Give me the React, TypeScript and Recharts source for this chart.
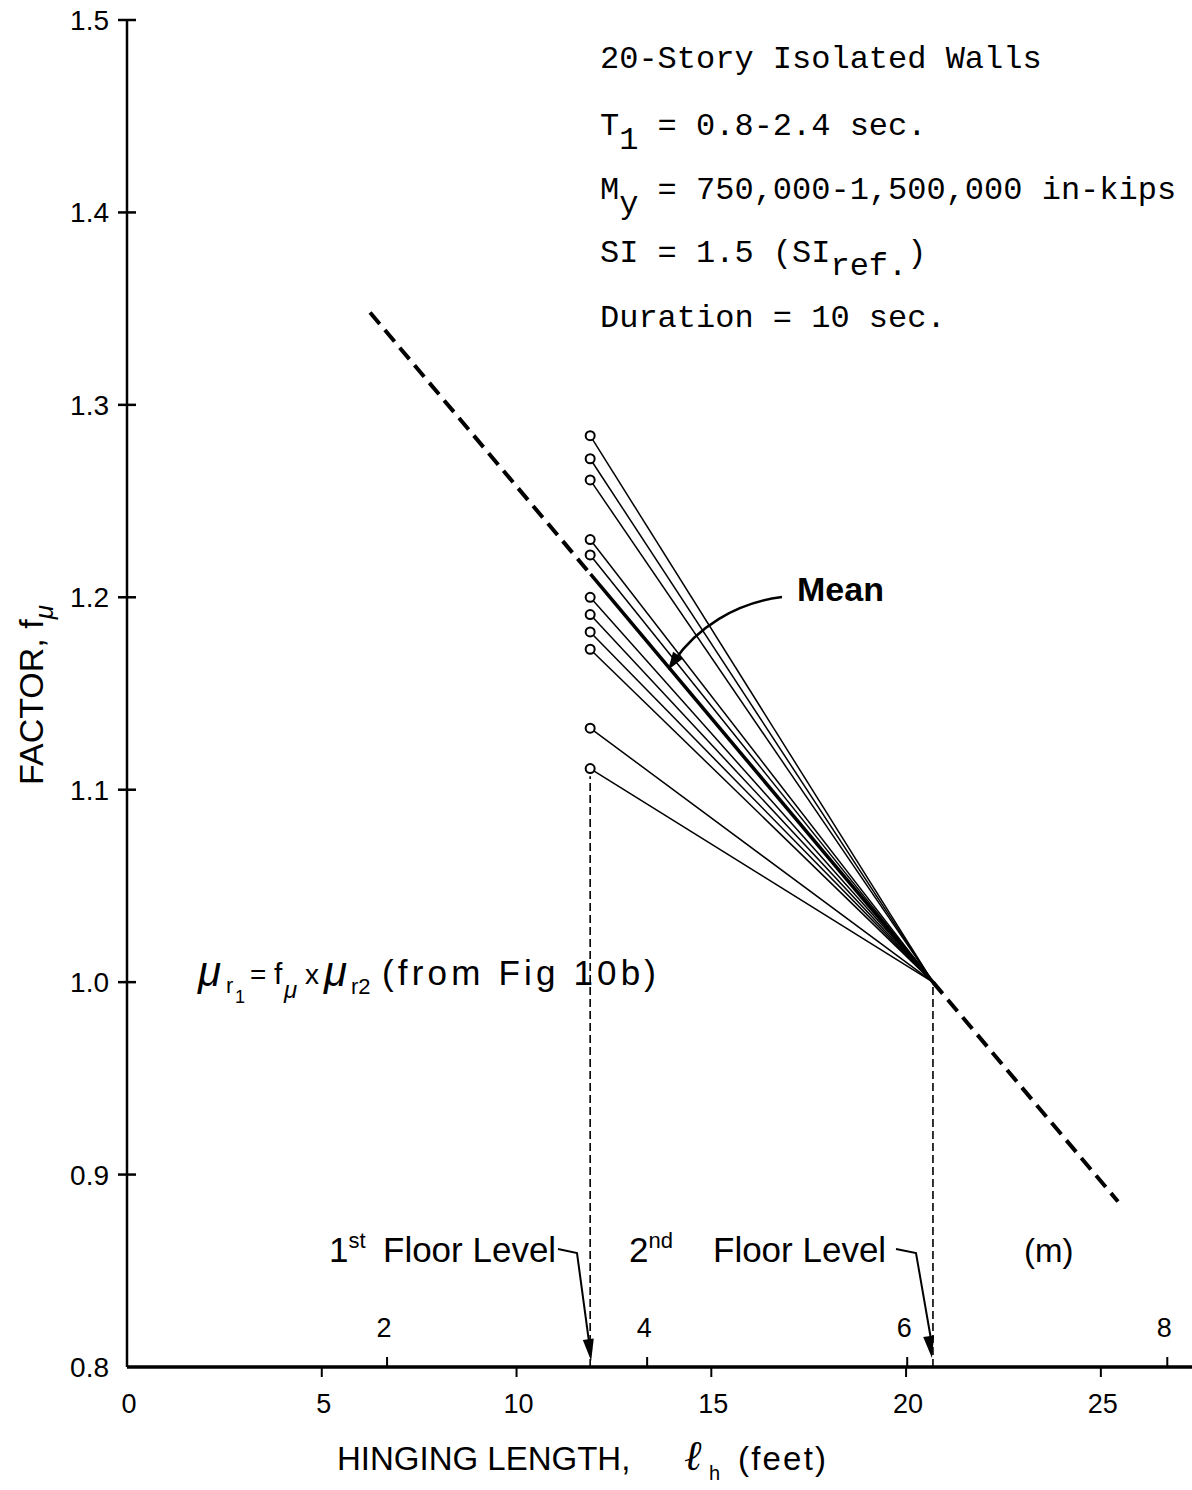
import React from 'react';
import { ComposedChart, Line, XAxis, YAxis, ReferenceLine } from 'recharts';

// ---- data ----
const startX = 11.89; // hinging length (ft) at 1st floor level, where each record starts
const convergeX = 20.69; // hinging length (ft) at 2nd floor level
const convergeY = 1.0;
const startValues = [1.284, 1.272, 1.261, 1.23, 1.222, 1.2, 1.191, 1.182, 1.173, 1.132, 1.111];
const meanX = [6.24, 11.9, 20.69, 25.44];
const meanY = [1.348, 1.212, 1.0, 0.886];
const feetTicks = [0, 5, 10, 15, 20, 25];
const meterTicks = [2, 4, 6, 8];
const yTicks = [0.8, 0.9, 1.0, 1.1, 1.2, 1.3, 1.4, 1.5];
const xDomain: [number, number] = [0, 27.34];
const meterMax = 8.19; // the metre scale drawn under the same axis length
const yDomain: [number, number] = [0.8, 1.5];

const ftPerDrawnMeter = xDomain[1] / meterMax;
const meterTickFeet = meterTicks.map((m) => m * ftPerDrawnMeter);
const allXTicks = [...feetTicks, ...meterTickFeet].sort((a, b) => a - b);

// ---- layout ----
const W = 1192;
const H = 1490;
const M = { top: 20, right: 0, bottom: 0, left: 0 };
const Y_W = 127;
const X_H = 123;
const plotL = M.left + Y_W;
const plotT = M.top;
const plotW = W - plotL - M.right;
const plotH = H - plotT - X_H - M.bottom;
const px = (v: number) => plotL + ((v - xDomain[0]) / (xDomain[1] - xDomain[0])) * plotW;
const py = (v: number) => plotT + ((yDomain[1] - v) / (yDomain[1] - yDomain[0])) * plotH;

const SANS = '"Liberation Sans", Arial, sans-serif';
const MONO = '"Liberation Mono", "Courier New", monospace';

const recordSeries = startValues.map((v) => [
  { x: startX, y: v },
  { x: convergeX, y: convergeY },
]);
const meanPts = meanX.map((x, i) => ({ x, y: meanY[i] }));

function head(x1: number, y1: number, x2: number, y2: number, len = 20, w = 5.5) {
  const dx = x2 - x1;
  const dy = y2 - y1;
  const L = Math.sqrt(dx * dx + dy * dy);
  const ux = dx / L;
  const uy = dy / L;
  const bx = x2 - ux * len;
  const by = y2 - uy * len;
  return `${x2},${y2} ${bx - uy * w},${by + ux * w} ${bx + uy * w},${by - ux * w}`;
}

const StartDot = (props: any) => {
  const { cx, cy, index } = props;
  if (index !== 0) return <g key={`d${index}`} />;
  return <circle key={`d${index}`} cx={cx} cy={cy} r={4.5} fill="#fff" stroke="#000" strokeWidth={2} />;
};

const XTick = (props: any) => {
  const { x, y, payload } = props;
  const v = payload.value;
  const isFeet = feetTicks.some((f) => Math.abs(f - v) < 1e-6);
  if (isFeet) {
    return (
      <g>
        {v !== 0 && <line x1={x} y1={y} x2={x} y2={y + 10} stroke="#000" strokeWidth={2} />}
        <text x={x + 2} y={y + 46} textAnchor="middle" fontSize={27} fontFamily={SANS} fill="#000">
          {v}
        </text>
      </g>
    );
  }
  return (
    <g>
      <line x1={x} y1={y} x2={x} y2={y - 10} stroke="#000" strokeWidth={2} />
      <text x={x - 3} y={y - 30} textAnchor="middle" fontSize={27} fontFamily={SANS} fill="#000">
        {Math.round(v / ftPerDrawnMeter)}
      </text>
    </g>
  );
};

const YTick = (props: any) => {
  const { x, y, payload } = props;
  return (
    <g>
      {payload.value !== 0.8 && <line x1={x - 9} y1={y} x2={x + 9} y2={y} stroke="#000" strokeWidth={2.5} />}
      <text x={x - 18} y={y + 10} textAnchor="end" fontSize={28} fontFamily={SANS} fill="#000">
        {payload.value.toFixed(1)}
      </text>
    </g>
  );
};

const Annotations = () => {
  const x1 = px(startX);
  const x2 = px(convergeX);
  const axisY = py(yDomain[0]);
  return (
    <g>
      {/* info block */}
      <g fontFamily={MONO} fontSize={32} fill="#000">
        <text x={600} y={68}>20-Story Isolated Walls</text>
        <text x={600} y={135}>
          T<tspan dy={14}>1</tspan>
          <tspan dy={-14}> = 0.8-2.4 sec.</tspan>
        </text>
        <text x={600} y={199}>
          M<tspan dy={14}>y</tspan>
          <tspan dy={-14}> = 750,000-1,500,000 in-kips</tspan>
        </text>
        <text x={600} y={262}>
          SI = 1.5 (SI<tspan dy={13}>ref.</tspan>
          <tspan dy={-13}>)</tspan>
        </text>
        <text x={600} y={327}>Duration = 10 sec.</text>
      </g>

      {/* Mean label and arrow */}
      <text x={797} y={601} fontSize={34} fontWeight="bold" fontFamily={SANS} fill="#000">
        Mean
      </text>
      <path d="M 782 597 C 735 603, 697 628, 674 661" fill="none" stroke="#000" strokeWidth={2.5} />
      <polygon points={head(695, 630, 668, 670, 18, 6)} fill="#000" />

      {/* formula */}
      <g fontFamily={SANS} fill="#000">
        <text x={198} y={986} fontSize={42} fontStyle="italic">μ</text>
        <text x={226} y={993} fontSize={22}>r</text>
        <text x={235} y={1003} fontSize={18}>1</text>
        <text x={250} y={984} fontSize={28}>=</text>
        <text x={274} y={984} fontSize={30}>f</text>
        <text x={284} y={998} fontSize={24} fontStyle="italic">μ</text>
        <text x={305} y={984} fontSize={28}>x</text>
        <text x={324} y={986} fontSize={42} fontStyle="italic">μ</text>
        <text x={351} y={994} fontSize={22}>r2</text>
        <text x={382} y={985} fontSize={35} textLength={274} lengthAdjust="spacing">(from Fig 10b)</text>
      </g>

      {/* floor level labels */}
      <g fontFamily={SANS} fill="#000">
        <text x={329} y={1262} fontSize={35}>
          1<tspan dy={-14} fontSize={22}>st</tspan>
        </text>
        <text x={383} y={1262} fontSize={35}>Floor Level</text>
        <text x={629} y={1262} fontSize={35}>
          2<tspan dy={-14} fontSize={22}>nd</tspan>
        </text>
        <text x={713} y={1262} fontSize={35}>Floor Level</text>
        <text x={1024} y={1262} fontSize={33}>(m)</text>
      </g>
      <path d={`M 558 1249 L 577 1253 L ${x1 - 1} ${axisY - 24}`} fill="none" stroke="#000" strokeWidth={2} />
      <polygon points={head(577, 1253, x1 + 1, axisY - 6, 22, 5.5)} fill="#000" />
      <path d={`M 896 1249 L 916 1253 L ${x2 - 2} ${axisY - 28}`} fill="none" stroke="#000" strokeWidth={2} />
      <polygon points={head(916, 1253, x2 - 1, axisY - 9, 22, 5.5)} fill="#000" />

      {/* axis titles */}
      <text transform="rotate(-90, 43, 695)" x={43} y={695} textAnchor="middle" fontSize={34} fontFamily={SANS} fill="#000">
        FACTOR, f<tspan dy={10} fontSize={26} fontStyle="italic">μ</tspan>
      </text>
      <g fontFamily={SANS} fill="#000">
        <text x={337} y={1470} fontSize={33}>HINGING LENGTH,</text>
        <text x={684} y={1470} fontSize={42} fontStyle="italic" fontFamily='"DejaVu Serif", serif'>ℓ</text>
        <text x={709} y={1480} fontSize={20}>h</text>
        <text x={738} y={1470} fontSize={33} textLength={88} lengthAdjust="spacing">(feet)</text>
      </g>
    </g>
  );
};

export default function App() {
  return (
    <div style={{ position: 'absolute', left: 0, top: 0, width: W, height: H, background: '#fff' }}>
      <ComposedChart width={W} height={H} margin={M}>
        <XAxis
          dataKey="x"
          type="number"
          domain={xDomain}
          ticks={allXTicks}
          interval={0}
          height={X_H}
          axisLine={{ stroke: '#000', strokeWidth: 3.5 }}
          tickLine={false}
          tickSize={0}
          tickMargin={0}
          tick={<XTick />}
          allowDataOverflow
        />
        <YAxis
          type="number"
          domain={yDomain}
          ticks={yTicks}
          interval={0}
          width={Y_W}
          axisLine={{ stroke: '#000', strokeWidth: 2.5 }}
          tickLine={false}
          tickSize={0}
          tickMargin={0}
          tick={<YTick />}
          allowDataOverflow
        />
        <ReferenceLine
          segment={[{ x: startX, y: yDomain[0] }, { x: startX, y: startValues[startValues.length - 1] - 0.004 }]}
          stroke="#000"
          strokeWidth={1.6}
          strokeDasharray="8 4"
        />
        <ReferenceLine
          segment={[{ x: convergeX, y: yDomain[0] }, { x: convergeX, y: convergeY }]}
          stroke="#000"
          strokeWidth={1.6}
          strokeDasharray="8 4"
        />
        {recordSeries.map((d, i) => (
          <Line
            key={`r${i}`}
            data={d}
            dataKey="y"
            type="linear"
            stroke="#000"
            strokeWidth={1.5}
            dot={StartDot}
            activeDot={false}
            isAnimationActive={false}
          />
        ))}
        <Line data={meanPts.slice(0, 2)} dataKey="y" type="linear" stroke="#000" strokeWidth={4} strokeDasharray="15 8" dot={false} activeDot={false} isAnimationActive={false} />
        <Line data={meanPts.slice(1, 3)} dataKey="y" type="linear" stroke="#000" strokeWidth={3.5} dot={false} activeDot={false} isAnimationActive={false} />
        <Line data={meanPts.slice(2, 4)} dataKey="y" type="linear" stroke="#000" strokeWidth={4} strokeDasharray="15 8" dot={false} activeDot={false} isAnimationActive={false} />
        <Annotations />
      </ComposedChart>
    </div>
  );
}
